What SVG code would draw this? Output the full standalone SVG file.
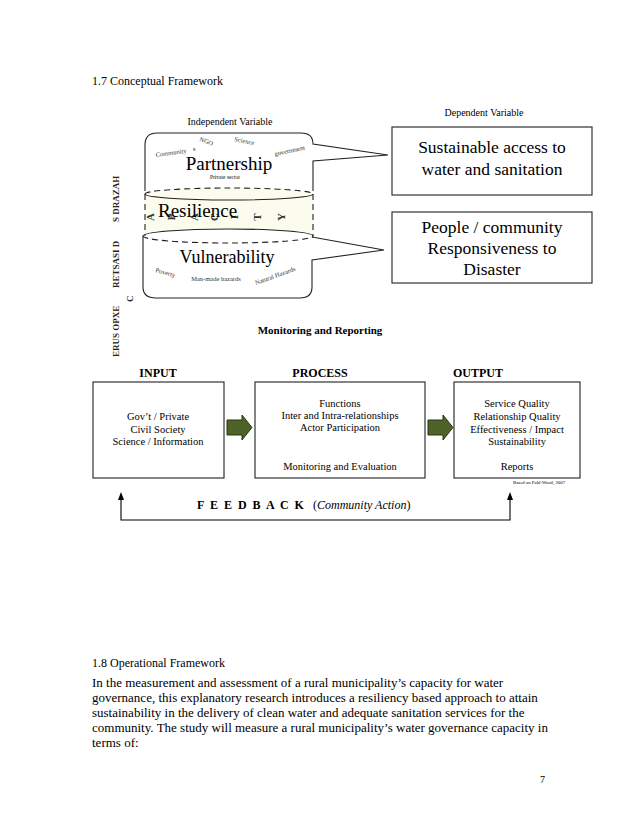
<svg xmlns="http://www.w3.org/2000/svg" width="639" height="828" viewBox="0 0 639 828">
<defs>
<style>
text{font-family:"Liberation Serif","Times New Roman",serif;fill:#000}
.ln{fill:none;stroke:#222;stroke-width:1.1}
.dash{fill:none;stroke:#222;stroke-width:1.1;stroke-dasharray:6 4}
.box{fill:#fff;stroke:#333;stroke-width:1.2}
.c{text-anchor:middle}
.b{font-weight:bold}
.sm{font-size:6.5px;fill:#333}
.big{font-size:17.5px}
.mid{font-size:10.5px}
.cap{font-size:11px;font-weight:bold;fill:#333;text-anchor:middle}
.vt{font-size:9px;font-weight:bold;fill:#222}
.blk{fill:#4f6228;stroke:#2a3514;stroke-width:1}
.para{font-size:13px}
.head{fill:#000}
</style>
</defs>
<rect width="639" height="828" fill="#fff"/>

<text x="92" y="85" font-size="12">1.7 Conceptual Framework</text>
<text x="230" y="125" font-size="10" class="c">Independent Variable</text>
<text x="484" y="116" font-size="10" class="c">Dependent Variable</text>

<g id="cylinder">
<path d="M145,191 L145,145 Q145,133 157,133 L301,133 Q313,133 313,144 L388,155 L313,161 L313,191" fill="#fff" class="ln"/>
<path d="M145,194 A84,6 0 0 1 313,194 L313,236 L145,236 Z" fill="#fbfbee"/>
<ellipse cx="228" cy="236" rx="85" ry="7" fill="#fff"/>
<path d="M143,236 L143,287 Q143,298 156,298 L300,298 Q312,298 312,287 L312,260 L384,250 L312,237" fill="#fff" class="ln"/>
<path d="M145,194 A84,6 0 0 1 313,194" class="dash"/>
<path d="M145,194 A84,6 0 0 0 313,194" class="ln"/>
<path d="M145,194 L145,236 M313,194 L313,236" class="dash"/>
<path d="M143,236 A85,7 0 0 1 313,236" class="ln"/>
<path d="M143,236 A85,7 0 0 0 313,236" class="dash"/>
</g>

<g id="partnership">
<text x="0" y="0" class="sm" transform="translate(156,157) rotate(-8)">Community</text>
<text x="0" y="0" class="sm" transform="translate(199,141) rotate(20)">NGO</text>
<text x="193" y="151" font-size="6" fill="#333">s</text>
<text x="0" y="0" class="sm" transform="translate(234,141) rotate(12)">Science</text>
<text x="0" y="0" class="sm" transform="translate(275,156) rotate(-12)">government</text>
<text x="229" y="170" font-size="19" class="c">Partnership</text>
<text x="225" y="179" font-size="5.5" class="c" fill="#333">Private sector</text>
</g>

<g id="resilience">
<text class="cap" transform="translate(154,217) rotate(-90)">A</text>
<text class="cap" transform="translate(175,217) rotate(-90)">P</text>
<text class="cap" transform="translate(198,217) rotate(-90)">A</text>
<text class="cap" transform="translate(218,217) rotate(-90)">C</text>
<text class="cap" transform="translate(238,217) rotate(-90)">I</text>
<text class="cap" transform="translate(261,217) rotate(-90)">T</text>
<text class="cap" transform="translate(285,217) rotate(-90)">Y</text>
<text x="158" y="217" font-size="19">Resilience</text>
</g>

<g id="vulnerability">
<text x="227" y="263" font-size="18" class="c">Vulnerability</text>
<text x="0" y="0" class="sm" transform="translate(155,272) rotate(15)">Poverty</text>
<text x="216" y="281" class="sm c">Man-made hazards</text>
<text x="0" y="0" class="sm" transform="translate(256,285) rotate(-20)">Natural Hazards</text>
</g>

<g id="exposure">
<text class="vt" transform="translate(119,357) rotate(-90)">ERUS OPXE</text>
<text class="vt" transform="translate(119,288) rotate(-90)">RETSASI D</text>
<text class="vt" transform="translate(119,222) rotate(-90)">S DRAZAH</text>
<text class="vt" font-size="11" transform="translate(133,302) rotate(-90)">C</text>
</g>

<g id="dep1">
<rect x="392" y="127" width="200" height="68" class="box"/>
<text x="492" y="153" class="big c">Sustainable access to</text>
<text x="492" y="175" class="big c">water and sanitation</text>
</g>
<g id="dep2">
<rect x="392" y="212" width="200" height="71" class="box"/>
<text x="492" y="233" class="big c">People / community</text>
<text x="492" y="254" class="big c">Responsiveness to</text>
<text x="492" y="275" class="big c">Disaster</text>
</g>

<text x="320" y="334" font-size="11" class="b c">Monitoring and Reporting</text>

<text x="158" y="377" font-size="12" class="b c">INPUT</text>
<text x="320" y="377" font-size="12" class="b c">PROCESS</text>
<text x="478" y="377" font-size="12" class="b c">OUTPUT</text>

<g id="input">
<rect x="93" y="382" width="131" height="96" class="box"/>
<text x="158" y="420" class="mid c">Gov’t / Private</text>
<text x="158" y="433" class="mid c">Civil Society</text>
<text x="158" y="445" class="mid c">Science / Information</text>
</g>
<g id="process">
<rect x="255" y="382" width="170" height="96" class="box"/>
<text x="340" y="407" class="mid c">Functions</text>
<text x="340" y="419" class="mid c">Inter and Intra-relationships</text>
<text x="340" y="431" class="mid c">Actor Participation</text>
<text x="340" y="470" class="mid c">Monitoring and Evaluation</text>
</g>
<g id="output">
<rect x="454" y="382" width="126" height="96" class="box"/>
<text x="517" y="407" class="mid c">Service Quality</text>
<text x="517" y="420" class="mid c">Relationship Quality</text>
<text x="517" y="433" class="mid c">Effectiveness / Impact</text>
<text x="517" y="445" class="mid c">Sustainability</text>
<text x="517" y="470" class="mid c">Reports</text>
</g>
<text x="539" y="484" font-size="4.8" class="c" fill="#333">Based on Pahl-Wostl, 2007</text>

<g id="connectors">
<path d="M227,420 L242,420 L242,415 L252,427.5 L242,440 L242,435 L227,435 Z" class="blk"/>
<path d="M428,420 L443,420 L443,415 L453,427.5 L443,440 L443,435 L428,435 Z" class="blk"/>
<path d="M121,499 L121,520 L510,520 L510,499" fill="none" stroke="#000" stroke-width="1.1"/>
<path d="M121,492 L124,500 L118,500 Z" class="head"/>
<path d="M510,492 L513,500 L507,500 Z" class="head"/>
</g>

<text x="197" y="509" font-size="12" class="b" letter-spacing="1.5">F E E D B A C K</text>
<text x="313" y="509" font-size="12">(<tspan font-style="italic">Community Action</tspan>)</text>

<text x="92" y="667" font-size="12">1.8 Operational Framework</text>
<text x="92" y="687" class="para">In the measurement and assessment of a rural municipality’s capacity for water</text>
<text x="92" y="702" class="para">governance, this explanatory research introduces a resiliency based approach to attain</text>
<text x="92" y="717" class="para">sustainability in the delivery of clean water and adequate sanitation services for the</text>
<text x="92" y="732" class="para">community. The study will measure a rural municipality’s water governance capacity in</text>
<text x="92" y="747" class="para">terms of:</text>

<text x="540" y="783" font-size="10">7</text>
</svg>
